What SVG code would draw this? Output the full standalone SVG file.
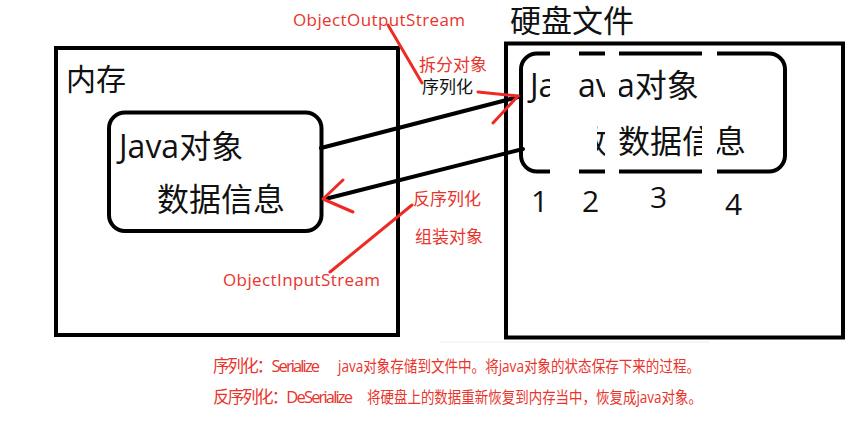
<svg xmlns="http://www.w3.org/2000/svg" width="864" height="427" viewBox="0 0 864 427">
<style>
.t{font-family:"Open Sans","Noto Sans CJK SC",sans-serif;fill:#111}
.r{font-family:"Open Sans","Noto Sans CJK SC",sans-serif;fill:#e8342c}
.box{fill:none;stroke:#000;stroke-width:4}
.bl{stroke:#000;stroke-width:4;fill:none;stroke-linecap:round}
.rl{stroke:#ee2a24;stroke-width:3;fill:none;stroke-linecap:round;stroke-linejoin:round}
</style>
<defs>
<clipPath id="seg2"><rect x="579" y="56" width="26" height="60"/></clipPath>
<clipPath id="seg2b"><rect x="597" y="116" width="8" height="52"/></clipPath>
</defs>
<rect width="864" height="427" fill="#fff"/>

<g id="memory">
<rect class="box" x="56" y="48" width="342" height="287"/>
<text class="t" x="66" y="90" font-size="30">内存</text>
</g>
<g id="java-object-memory">
<rect class="box" x="109" y="112.5" width="212.5" height="118.5" rx="16" stroke-width="3.5"/>
<text class="t" x="119" y="158" font-size="32">Java对象</text>
<text class="t" x="157" y="211" font-size="32">数据信息</text>
</g>

<g id="disk">
<rect class="box" x="506" y="43.5" width="337" height="294"/>
<text class="t" x="510" y="32" font-size="31">硬盘文件</text>
</g>
<g id="java-object-disk">
<rect class="box" x="521" y="53.5" width="264" height="118" rx="16" stroke-width="3.5"/>
<text class="t" x="530" y="97" font-size="32">Ja</text>
<text class="t" x="617" y="97" font-size="32">a对象</text>
<text class="t" x="618" y="153" font-size="32">数据信息</text>
<g fill="#fff">
<rect x="550" y="49" width="29" height="127"/>
<rect x="605" y="49" width="14" height="127"/>
<rect x="702" y="49" width="15" height="127"/>
</g>
<g clip-path="url(#seg2)">
<text class="t" x="578" y="97" font-size="32">av</text>
</g>
<g clip-path="url(#seg2b)">
<text class="t" x="575" y="153" font-size="32">数</text>
</g>
<text class="t" x="531" y="212" font-size="30">1</text>
<text class="t" x="582" y="212" font-size="30">2</text>
<text class="t" x="650" y="208" font-size="30">3</text>
<text class="t" x="725" y="215" font-size="30">4</text>
</g>

<g id="connectors">
<line class="bl" x1="321" y1="148" x2="518" y2="97"/>
<line class="bl" x1="523" y1="149" x2="325" y2="199"/>
<polyline class="rl" points="343,180 323,199 353,212"/>
<polyline class="rl" points="478,92 518,96"/>
<polyline class="rl" points="493,123 518,96"/>
<line class="rl" x1="388" y1="25" x2="422" y2="83"/>
<line class="rl" x1="330" y1="272" x2="412" y2="205"/>
</g>

<g id="labels">
<text class="r" x="293" y="26" font-size="17" textLength="172">ObjectOutputStream</text>
<text class="r" x="419" y="71" font-size="17">拆分对象</text>
<text class="t" x="422" y="93" font-size="17">序列化</text>
<text class="r" x="413" y="205" font-size="17">反序列化</text>
<text class="r" x="415" y="243" font-size="17">组装对象</text>
<text class="r" x="223" y="286" font-size="17" textLength="157">ObjectInputStream</text>
</g>

<line x1="440" y1="342" x2="710" y2="342" stroke="#ececec" stroke-width="1"/>
<g id="notes">
<text class="r" x="213" y="372" font-size="16.5" textLength="107">序列化：Serialize</text>
<text class="r" x="338" y="372" font-size="16" textLength="362" lengthAdjust="spacingAndGlyphs">java对象存储到文件中。将java对象的状态保存下来的过程。</text>
<text class="r" x="213" y="403" font-size="16.5" textLength="140">反序列化：DeSerialize</text>
<text class="r" x="367" y="403" font-size="16" textLength="335" lengthAdjust="spacingAndGlyphs">将硬盘上的数据重新恢复到内存当中，恢复成java对象。</text>
</g>
</svg>
